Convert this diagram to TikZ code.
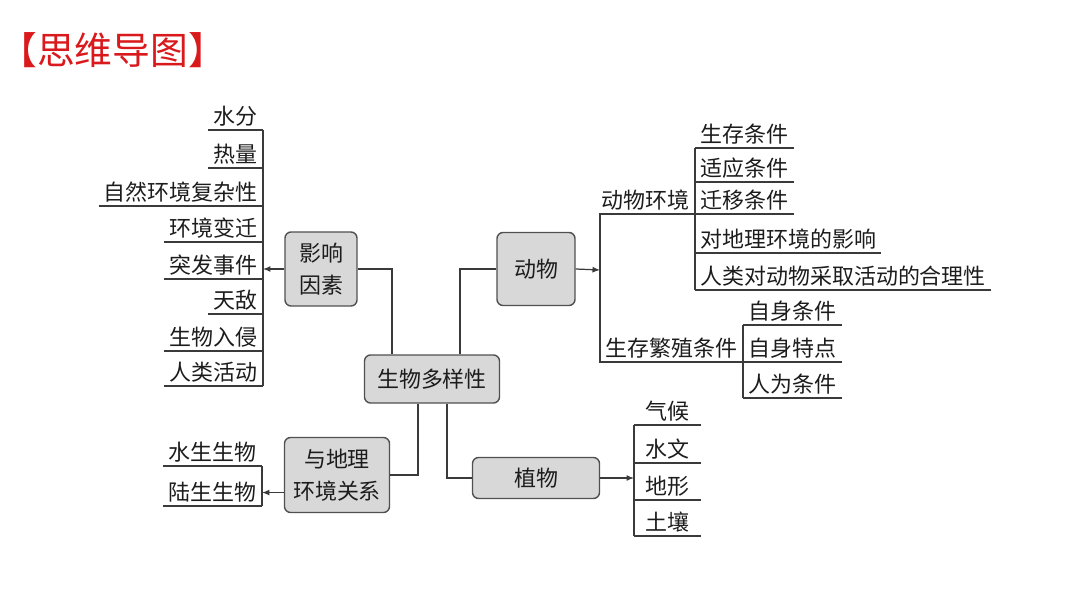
\documentclass[tikz,border=0pt]{standalone}
\usepackage{fontspec}
\setmainfont{Noto Sans CJK SC}
\usetikzlibrary{arrows.meta,calc}
\definecolor{titlered}{HTML}{D9191C}
\definecolor{linegray}{HTML}{3A3A3A}
\definecolor{boxfill}{HTML}{D8D8D8}
\definecolor{boxedge}{HTML}{505050}
\definecolor{inkgray}{HTML}{1C1C1C}
\tikzset{
  topic/.style={draw=boxedge, fill=boxfill, line width=0.8pt, rounded corners=0.12cm,
    align=center, inner sep=0pt, font=\fontsize{12.5}{18}\selectfont, text=inkgray},
  leaf/.style={inner xsep=0.1cm, inner ysep=0.06cm, font=\fontsize{12.5}{15}\selectfont, text=inkgray},
  wire/.style={draw=linegray, line width=0.7pt},
  arr/.style={wire, -{Latex[length=1.5mm,width=1.2mm]}},
}

\begin{document}
\begin{tikzpicture}[x=0.02cm, y=-0.02cm]
  \useasboundingbox (0,0) rectangle (1080,608);
  \node[anchor=west, inner sep=0pt, text=titlered, font=\fontsize{21.5}{21.5}\selectfont] (title) at (-1,50) {【思维导图】};

  \node[topic, minimum width=2.7cm, minimum height=0.96cm] (zx) at (432,379) {生物多样性};
  \node[topic, minimum width=1.44cm, minimum height=1.48cm] (yx) at (321,269) {影响\\因素};
  \node[topic, minimum width=1.56cm, minimum height=1.46cm] (dw) at (536,269) {动物};
  \node[topic, minimum width=2.54cm, minimum height=0.82cm] (zw) at (536,478) {植物};
  \node[topic, minimum width=2.1cm, minimum height=1.5cm] (dl) at (337,475) {与地理\\环境关系};

  % factors
  \foreach \t/\y [count=\i] in {水分/130, 热量/168, 自然环境复杂性/206, 环境变迁/242,
      突发事件/279, 天敌/314, 生物入侵/351, 人类活动/386}{
    \node[leaf, anchor=south east] (f\i) at (263,\y) {\t};
    \draw[wire] (f\i.south west) -- (f\i.south east);
  }
  \draw[wire] (f1.south east) -- (f8.south east);
  \draw[arr] (yx.west) -- (yx.west -| f1.south east);

  % relations
  \foreach \t/\y [count=\i] in {水生生物/466, 陆生生物/506}{
    \node[leaf, anchor=south east] (s\i) at (262,\y) {\t};
    \draw[wire] (s\i.south west) -- (s\i.south east);
  }
  \draw[wire] (s1.south east) -- (s2.south east);
  \draw[arr] (dl.west |- s2.east) -- (s2.east);

  % animals
  \foreach \t/\y [count=\i] in {生存条件/148, 适应条件/182, 迁移条件/214,
      对地理环境的影响/253, 人类对动物采取活动的合理性/290}{
    \node[leaf, anchor=south west] (h\i) at (695,\y) {\t};
    \draw[wire] (h\i.south west) -- (h\i.south east);
  }
  \draw[wire] (h1.south west) -- (h5.south west);
  \foreach \t/\y [count=\i] in {自身条件/325, 自身特点/362, 人为条件/398}{
    \node[leaf, anchor=south west] (r\i) at (743,\y) {\t};
    \draw[wire] (r\i.south west) -- (r\i.south east);
  }
  \draw[wire] (r1.south west) -- (r3.south west);
  \node[leaf, anchor=south east] (dh) at (h3.south west) {动物环境};
  \node[leaf, anchor=south east] (sf) at (r2.south west) {生存繁殖条件};
  \coordinate (dt) at (600,270);
  \draw[arr] (dw.east) -- (dt);
  \draw[wire] (dh.south east) -- (dh.south east -| dt) -- (sf.south east -| dt) -- (sf.south east);

  % plants
  \foreach \t/\y [count=\i] in {气候/425, 水文/463, 地形/500, 土壤/536}{
    \node[leaf, anchor=south west, minimum width=1.32cm] (p\i) at (634,\y) {\t};
    \draw[wire] (p\i.south west) -- (p\i.south east);
  }
  \draw[wire] (p1.south west) -- (p4.south west);
  \draw[arr] (zw.east) -- (zw.east -| p1.south west);

  \draw[wire] (yx.east) -| ($(zx.north)+(-40,0)$);
  \draw[wire] ($(zx.north)+(28,0)$) |- (dw.west);
  \draw[wire] ($(zx.south)+(-14,0)$) |- (dl.east);
  \draw[wire] ($(zx.south)+(15,0)$) |- (zw.west);
\end{tikzpicture}
\end{document}
